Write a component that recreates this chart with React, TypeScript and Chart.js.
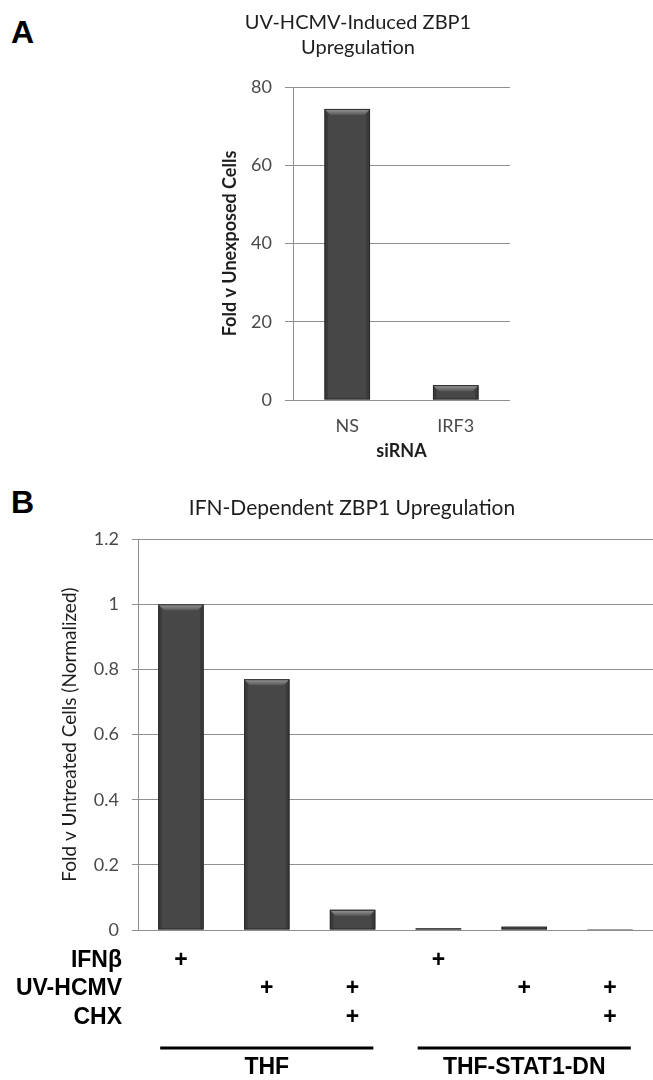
import React, { useEffect, useRef } from 'react';
import { Chart, registerables } from 'chart.js';

Chart.register(...registerables);

// ---------- Panel A data ----------
const sirnaCategories = ['NS', 'IRF3'];
const foldUnexposed = [74.4, 3.8];

// ---------- Panel B data ----------
const conditionCategories = [
  'THF IFNβ',
  'THF UV-HCMV',
  'THF UV-HCMV + CHX',
  'THF-STAT1-DN IFNβ',
  'THF-STAT1-DN UV-HCMV',
  'THF-STAT1-DN UV-HCMV + CHX',
];
const foldUntreated = [1.0, 0.77, 0.062, 0.005, 0.01, 0.003];
const treatmentRows = ['IFNβ', 'UV-HCMV', 'CHX'];
const ifnbAdded = [true, false, false, true, false, false];
const uvhcmvAdded = [false, true, true, false, true, true];
const chxAdded = [false, false, true, false, false, true];
const cellLines = ['THF', 'THF-STAT1-DN'];
const cellLineFirst = [0, 3];
const cellLineLast = [2, 5];

const FONT = 'Lato, "Liberation Sans", sans-serif';
const GRID = '#8f8f8f';
const TICK_COLOR = '#4a4a4a';
const TEXT = '#1e1e1e';

const bevelPlugin = {
  id: 'bevel',
  afterDatasetsDraw(chart: any) {
    const ctx = chart.ctx;
    chart.getSortedVisibleDatasetMetas().forEach((meta: any) => {
      meta.data.forEach((el: any) => {
        const { x, y, base, width } = el.getProps(['x', 'y', 'base', 'width'], true);
        const left = x - width / 2;
        const right = x + width / 2;
        const h = base - y;
        if (h <= 0.5) return;
        const b = Math.min(6, h / 2);
        ctx.save();
        ctx.fillStyle = 'rgba(0,0,0,0.18)';
        ctx.beginPath();
        ctx.moveTo(left, y);
        ctx.lineTo(left + b * 0.6, y + b);
        ctx.lineTo(left + b * 0.6, base);
        ctx.lineTo(left, base);
        ctx.closePath();
        ctx.fill();
        ctx.beginPath();
        ctx.moveTo(right, y);
        ctx.lineTo(right - b * 0.6, y + b);
        ctx.lineTo(right - b * 0.6, base);
        ctx.lineTo(right, base);
        ctx.closePath();
        ctx.fill();
        const g = ctx.createLinearGradient(0, y, 0, y + b);
        g.addColorStop(0, '#9c9c9c');
        g.addColorStop(1, '#575757');
        ctx.fillStyle = g;
        ctx.beginPath();
        ctx.moveTo(left, y);
        ctx.lineTo(right, y);
        ctx.lineTo(right - b, y + b);
        ctx.lineTo(left + b, y + b);
        ctx.closePath();
        ctx.fill();
        ctx.strokeStyle = '#2a2a2a';
        ctx.lineWidth = 1;
        ctx.strokeRect(left + 0.5, y + 0.5, width - 1, h - 1);
        ctx.restore();
      });
    });
  },
};

const treatmentTablePlugin = {
  id: 'treatmentTable',
  afterDraw(chart: any) {
    const ctx = chart.ctx;
    const xs = chart.scales.x;
    const bottom = chart.chartArea.bottom;
    const meta = chart.getDatasetMeta(0);
    const rowMarks = [ifnbAdded, uvhcmvAdded, chxAdded];
    const rowOffsets = [31, 59, 88];
    ctx.save();
    ctx.fillStyle = '#000';
    ctx.font = 'bold 23px "Liberation Sans", Arial, sans-serif';
    ctx.textBaseline = 'middle';
    treatmentRows.forEach((label, r) => {
      const y = bottom + rowOffsets[r];
      ctx.textAlign = 'right';
      ctx.fillText(label, 122, y);
      ctx.textAlign = 'center';
      rowMarks[r].forEach((on, i) => {
        if (on) ctx.fillText('+', xs.getPixelForValue(i), y);
      });
    });
    cellLines.forEach((name, g) => {
      const first = meta.data[cellLineFirst[g]];
      const last = meta.data[cellLineLast[g]];
      const x0 = first.x - first.width / 2 + 2;
      const x1 = last.x + last.width / 2 - 2;
      ctx.strokeStyle = '#000';
      ctx.lineWidth = 3;
      ctx.beginPath();
      ctx.moveTo(x0, bottom + 118);
      ctx.lineTo(x1, bottom + 118);
      ctx.stroke();
      ctx.textAlign = 'center';
      ctx.fillText(name, (x0 + x1) / 2, bottom + 138);
    });
    ctx.restore();
  },
};

const plainNumber = (v: any) => String(Number(Number(v).toFixed(2)));

function PanelA() {
  const ref = useRef<HTMLCanvasElement>(null);
  useEffect(() => {
    const chart = new Chart(ref.current as HTMLCanvasElement, {
      type: 'bar',
      data: {
        labels: sirnaCategories,
        datasets: [
          {
            data: foldUnexposed,
            backgroundColor: '#474747',
            borderWidth: 0,
            barPercentage: 0.42,
            categoryPercentage: 1,
          },
        ],
      },
      options: {
        responsive: false,
        animation: false,
        devicePixelRatio: 1,
        layout: { padding: { left: 206, right: 10, top: 0, bottom: 0 } },
        plugins: {
          legend: { display: false },
          tooltip: { enabled: false },
          title: {
            display: true,
            text: ['UV-HCMV-Induced ZBP1', 'Upregulation'],
            color: TEXT,
            font: { family: FONT, size: 20, weight: 'normal', lineHeight: 1.25 },
            padding: { top: 10.5, bottom: 26.5 },
          },
        },
        scales: {
          x: {
            grid: { display: false, drawTicks: false },
            border: { display: false },
            ticks: { color: TICK_COLOR, font: { family: FONT, size: 18 }, padding: 15 },
            title: {
              display: true,
              text: 'siRNA',
              color: TEXT,
              font: { family: FONT, size: 18, weight: 'bold' },
              padding: { top: 0, bottom: 8 },
            },
            afterFit: (s: any) => {
              s.height = 70;
            },
          },
          y: {
            min: 0,
            max: 80,
            ticks: {
              stepSize: 20,
              color: TICK_COLOR,
              font: { family: FONT, size: 18 },
              padding: 13,
              callback: plainNumber,
            },
            grid: { color: GRID, tickLength: 8, drawTicks: true },
            border: { display: true, color: GRID },
            title: {
              display: true,
              text: 'Fold v Unexposed Cells',
              color: TEXT,
              font: { family: FONT, size: 18, weight: 'bold' },
              padding: { top: 13, bottom: 0 },
            },
            afterFit: (s: any) => {
              s.width = 87;
            },
          },
        },
      },
      plugins: [bevelPlugin],
    } as any);
    return () => chart.destroy();
  }, []);
  return (
    <canvas
      ref={ref}
      width={520}
      height={470}
      style={{ position: 'absolute', left: 0, top: 0, width: 520, height: 470 }}
    />
  );
}

function PanelB() {
  const ref = useRef<HTMLCanvasElement>(null);
  useEffect(() => {
    const chart = new Chart(ref.current as HTMLCanvasElement, {
      type: 'bar',
      data: {
        labels: conditionCategories,
        datasets: [
          {
            data: foldUntreated,
            backgroundColor: '#474747',
            borderWidth: 0,
            barPercentage: 0.53,
            categoryPercentage: 1,
          },
        ],
      },
      options: {
        responsive: false,
        animation: false,
        devicePixelRatio: 1,
        layout: { padding: { left: 51, right: 0, top: 0, bottom: 0 } },
        plugins: {
          legend: { display: false },
          tooltip: { enabled: false },
          title: {
            display: true,
            text: 'IFN-Dependent ZBP1 Upregulation',
            color: TEXT,
            font: { family: FONT, size: 21, weight: 'normal', lineHeight: 1.15 },
            padding: { top: 16, bottom: 19 },
          },
        },
        scales: {
          x: {
            grid: { display: false, drawTicks: false },
            border: { display: false },
            ticks: { display: false },
            afterFit: (s: any) => {
              s.height = 150;
            },
          },
          y: {
            min: 0,
            max: 1.2,
            ticks: {
              stepSize: 0.2,
              color: TICK_COLOR,
              font: { family: FONT, size: 18 },
              padding: 13,
              callback: plainNumber,
            },
            grid: { color: GRID, tickLength: 6, drawTicks: true },
            border: { display: true, color: GRID },
            title: {
              display: true,
              text: 'Fold v Untreated Cells (Normalized)',
              color: TEXT,
              font: { family: FONT, size: 19, weight: 'normal' },
              padding: { top: 7.6, bottom: 0 },
            },
            afterFit: (s: any) => {
              s.width = 87;
            },
          },
        },
      },
      plugins: [bevelPlugin, treatmentTablePlugin],
    } as any);
    return () => chart.destroy();
  }, []);
  return (
    <canvas
      ref={ref}
      width={653}
      height={600}
      style={{ position: 'absolute', left: 0, top: 480, width: 653, height: 600 }}
    />
  );
}

const letterStyle: React.CSSProperties = {
  position: 'absolute',
  fontFamily: '"Liberation Sans", Arial, sans-serif',
  fontWeight: 'bold',
  fontSize: 32,
  lineHeight: '32px',
  color: '#000',
};

export default function App() {
  return (
    <div
      style={{
        position: 'absolute',
        left: 0,
        top: 0,
        width: 653,
        height: 1080,
        background: '#fff',
        overflow: 'hidden',
      }}
    >
      <div style={{ ...letterStyle, left: 11, top: 16 }}>A</div>
      <div style={{ ...letterStyle, left: 11, top: 486 }}>B</div>
      <PanelA />
      <PanelB />
    </div>
  );
}
